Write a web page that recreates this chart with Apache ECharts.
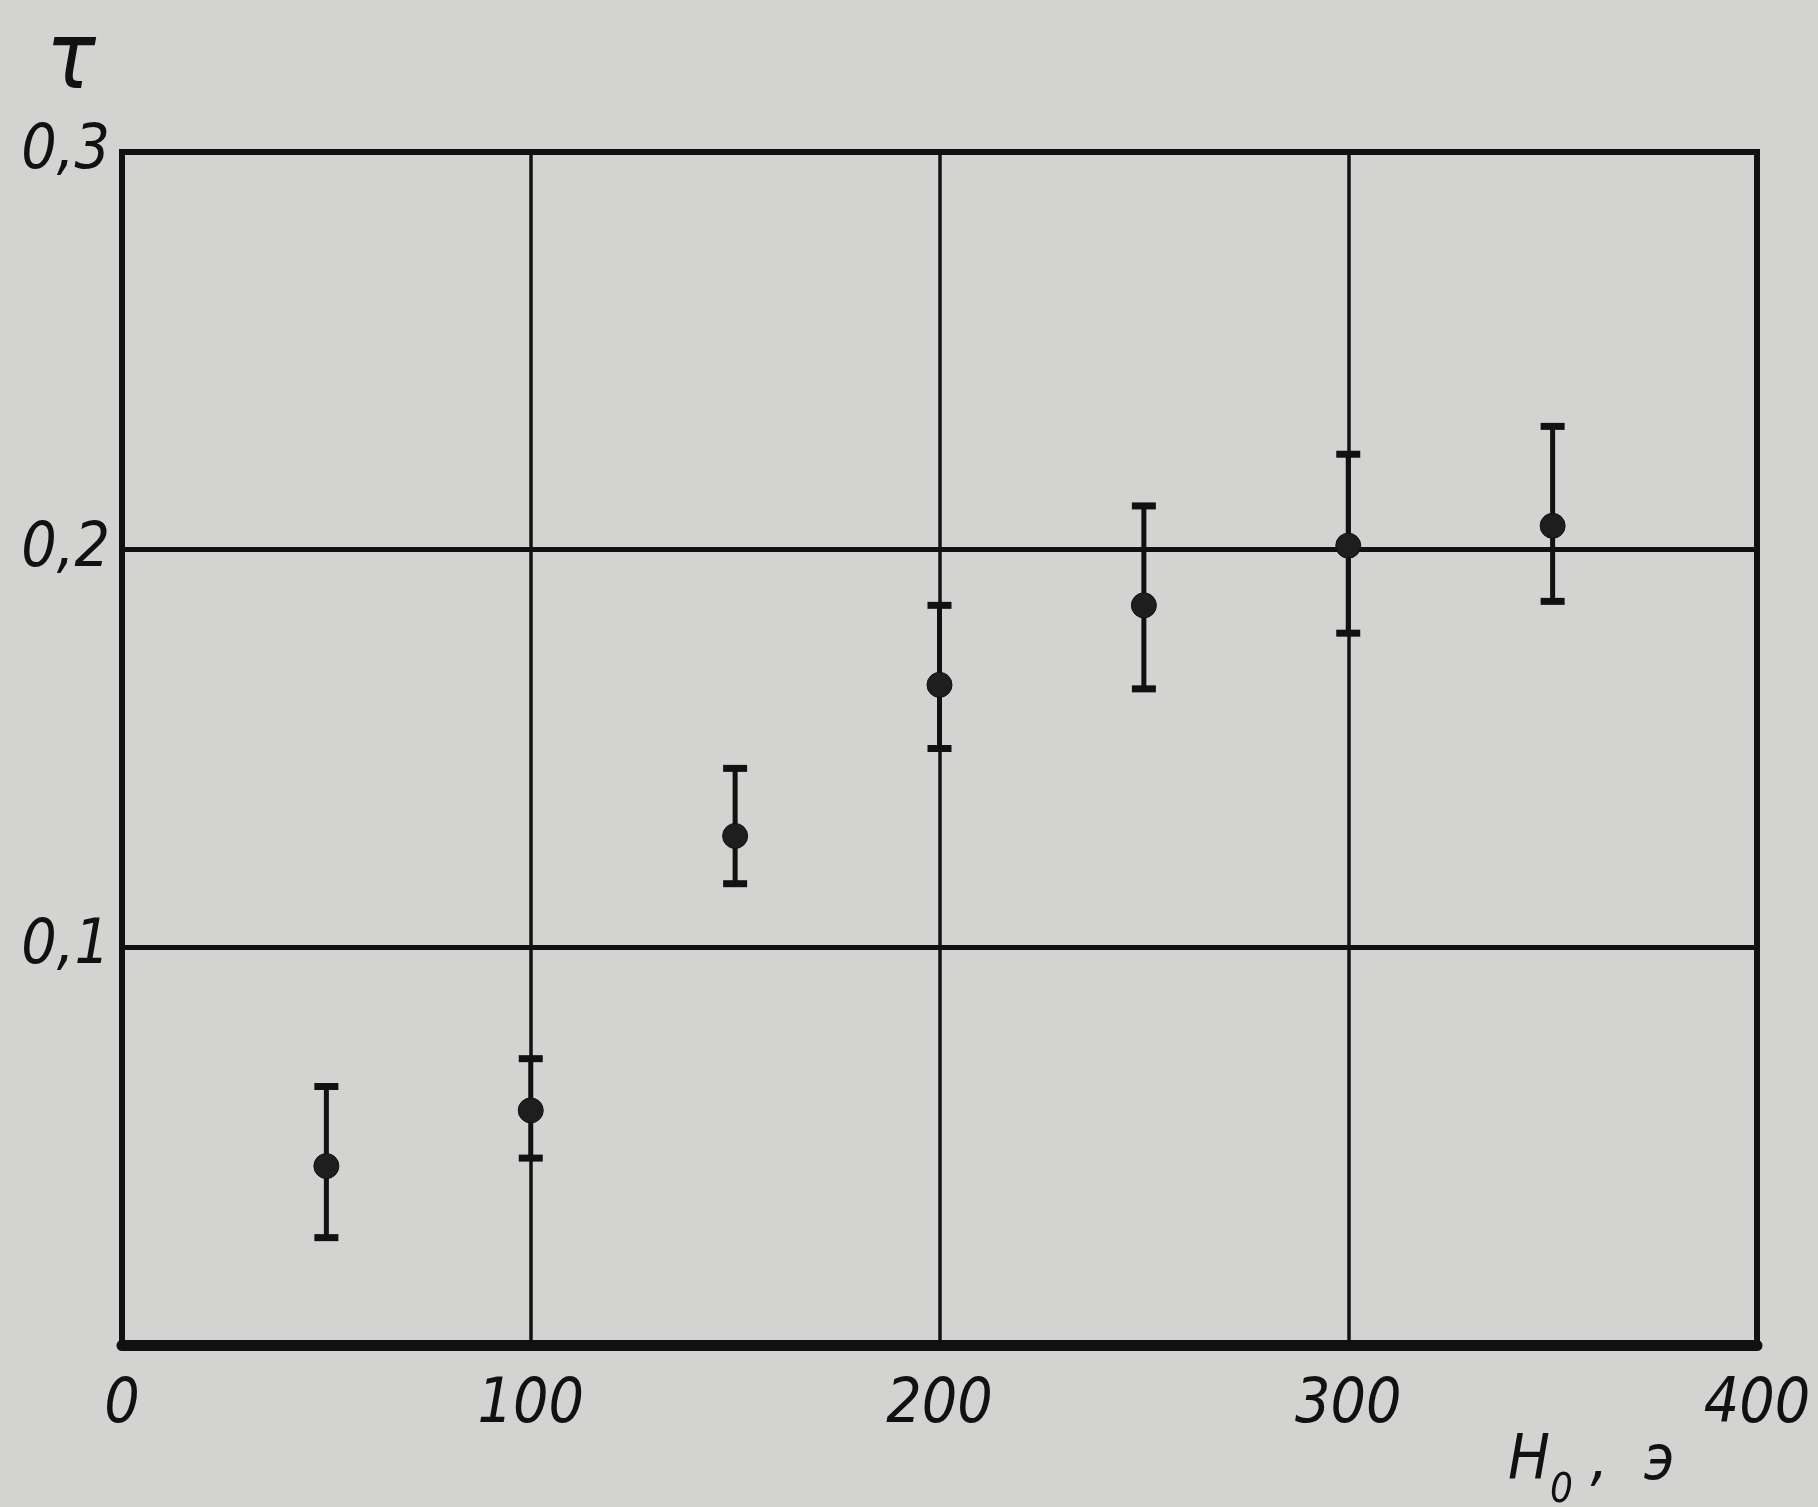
<!DOCTYPE html>
<html>
<head>
<meta charset="utf-8">
<script src="https://cdn.jsdelivr.net/npm/echarts@6/dist/echarts.min.js"></script>
<style>
html,body{margin:0;padding:0;background:#d3d3d1;}
#c{width:1818px;height:1507px;}
</style>
</head>
<body>
<div id="c"></div>
<script>
// Field H0 (Oe) at which tau was measured
const fieldH = [50, 100, 150, 200, 250, 300, 350];
// tau values (dots)
const tauValues = [0.045, 0.059, 0.128, 0.166, 0.186, 0.201, 0.206];
// error bar lower / upper ends
const tauLow = [0.027, 0.047, 0.116, 0.150, 0.165, 0.179, 0.187];
const tauHigh = [0.065, 0.072, 0.145, 0.186, 0.211, 0.224, 0.231];
// axis ticks
const xTicks = [0, 100, 200, 300, 400];
const yTickLabels = {0.1: '0,1', 0.2: '0,2', 0.3: '0,3'};

const FONT = "'Liberation Sans Narrow', 'DejaVu Sans Condensed', sans-serif";

const chart = echarts.init(document.getElementById('c'));

const errData = fieldH.map((x, i) => [x, tauLow[i], tauHigh[i]]);
const dotData = fieldH.map((x, i) => [x, tauValues[i]]);

chart.setOption({
  backgroundColor: '#d3d3d1',
  animation: false,
  grid: {
    left: 122, right: 61, top: 152, bottom: 162,
    show: true, borderColor: '#111', borderWidth: 6, backgroundColor: 'transparent'
  },
  xAxis: {
    type: 'value', min: 0, max: 400, interval: 100,
    axisLine: {show: true, lineStyle: {color: '#111', width: 11}},
    axisTick: {show: false},
    splitLine: {show: true, lineStyle: {color: '#111', width: 3.5}},
    axisLabel: {
      margin: 30, color: '#111', fontSize: 62, fontStyle: 'italic', fontFamily: FONT,
      formatter: v => String(v)
    }
  },
  yAxis: {
    type: 'value', min: 0, max: 0.3, interval: 0.1,
    axisLine: {show: true, lineStyle: {color: '#111', width: 6}},
    axisTick: {show: false},
    splitLine: {show: true, lineStyle: {color: '#111', width: 5}},
    axisLabel: {
      margin: 12, color: '#111', fontSize: 62, fontStyle: 'italic', fontFamily: FONT,
      formatter: v => {
        const k = Math.round(v * 10) / 10;
        return yTickLabels[k] || '';
      }
    }
  },
  graphic: [
    {type: 'text', left: 46, top: 18, style: {text: 'τ', fontSize: 92, fontStyle: 'italic', fontFamily: FONT, fill: '#111'}},
    {type: 'text', left: 1508, top: 1432, style: {
      text: '{h|H}{s|0}{h| ,  э}', fill: '#111',
      rich: {
        h: {fontSize: 62, fontStyle: 'italic', fontFamily: FONT, fill: '#111', verticalAlign: 'bottom'},
        s: {fontSize: 40, fontStyle: 'italic', fontFamily: FONT, fill: '#111', verticalAlign: 'bottom', padding: [0, 0, -18, 0]}
      }
    }}
  ],
  series: [
    {
      type: 'custom',
      data: errData,
      z: 5,
      renderItem: function (params, api) {
        const x = api.value(0);
        const lo = api.coord([x, api.value(1)]);
        const hi = api.coord([x, api.value(2)]);
        const hw = 12;
        const st = {stroke: '#111', lineWidth: 5};
        return {
          type: 'group',
          children: [
            {type: 'line', shape: {x1: lo[0], y1: lo[1], x2: hi[0], y2: hi[1]}, style: st},
            {type: 'line', shape: {x1: lo[0] - hw, y1: lo[1], x2: lo[0] + hw, y2: lo[1]}, style: {stroke: '#111', lineWidth: 7}},
            {type: 'line', shape: {x1: hi[0] - hw, y1: hi[1], x2: hi[0] + hw, y2: hi[1]}, style: {stroke: '#111', lineWidth: 7}}
          ]
        };
      }
    },
    {
      type: 'scatter',
      data: dotData,
      symbol: 'circle',
      symbolSize: 25,
      z: 6,
      itemStyle: {color: '#1e1e1e', opacity: 1, borderColor: '#111', borderWidth: 1}
    }
  ]
});
</script>
</body>
</html>
